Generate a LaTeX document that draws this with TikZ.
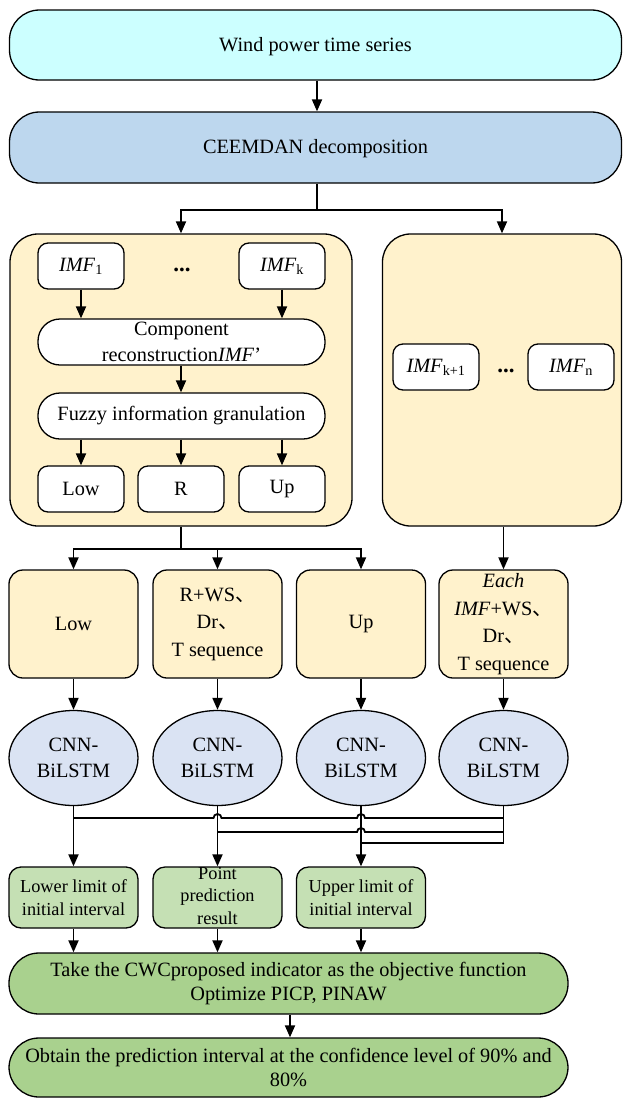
\documentclass[tikz,border=0pt]{standalone}
\usepackage{fontspec}
\setmainfont{Liberation Serif}
\newfontfamily\cjk{Noto Sans CJK SC}
\usetikzlibrary{arrows.meta,shapes.geometric}
\definecolor{cyanfill}{HTML}{CCFFFF}
\definecolor{bluefill}{HTML}{BDD7EE}
\definecolor{yelfill}{HTML}{FFF2CC}
\definecolor{ellfill}{HTML}{DAE3F3}
\definecolor{lgreen}{HTML}{C5E0B4}
\definecolor{dgreen}{HTML}{A9D18E}
\newcommand{\dun}{{\cjk 、}}
\begin{document}
\begin{tikzpicture}[x=1pt,y=-1pt,
  every node/.style={font=\fontsize{20.3}{25.5}\selectfont, inner sep=0pt, align=center},
  rbox/.style={draw, line width=1.3pt, rounded corners=#1},
  conn/.style={line width=1.8pt},
  arr/.style={line width=1.8pt, -{Triangle[length=12pt,width=10pt]}},
  smallbox/.style={rbox=10pt, fill=white, minimum width=86pt, minimum height=46pt},
  pill/.style={rbox=22pt, fill=white, minimum width=287pt, minimum height=46pt},
  midbox/.style={rbox=14pt, fill=yelfill, minimum width=129pt, minimum height=108pt, font=\fontsize{20.3}{27.5}\selectfont},
  cnn/.style={ellipse, draw, line width=1.3pt, fill=ellfill, minimum width=129pt, minimum height=95pt},
  gbox/.style={rbox=12pt, fill=lgreen, minimum width=129pt, minimum height=61pt, font=\fontsize{18.3}{22.5}\selectfont},
  bigg/.style={rbox=30pt, fill=dgreen, minimum width=559pt, font=\fontsize{20.3}{24.5}\selectfont}
]
\useasboundingbox (0,0) rectangle (623,1098);

% top boxes
\node[rbox=30pt, fill=cyanfill, minimum width=612pt, minimum height=70pt] (b1) at (315.5,45) {\raisebox{-2pt}[\height][\depth]{Wind power time series}};
\node[rbox=30pt, fill=bluefill, minimum width=612pt, minimum height=71pt] (b2) at (315.5,147.5) {\raisebox{-1pt}[\height][\depth]{CEEMDAN decomposition}};

% big containers
\node[rbox=28pt, fill=yelfill, minimum width=342pt, minimum height=292pt] (L) at (181,380) {};
\node[rbox=28pt, fill=yelfill, minimum width=239pt, minimum height=292pt] (R) at (502,380) {};

% inside left
\node[smallbox] (imf1) at (81,266) {\textit{IMF}\textsubscript{1}};
\node (dots1) at (182,270) {\textbf{\fontsize{23}{23}\selectfont ...}};
\node[smallbox] (imfk) at (282,266) {\textit{IMF}\textsubscript{k}};
\node[pill] (comp) at (181.5,342) {Component\\reconstruction\textit{IMF}’};
\node[pill] (fuzzy) at (181.5,416) {Fuzzy information granulation};
\node[smallbox] (low0) at (81,489) {Low};
\node[smallbox] (r0) at (181,489) {R};
\node[smallbox] (up0) at (282,489) {Up};

% inside right
\node[smallbox] (imfk1) at (436,367) {\textit{IMF}\textsubscript{k+1}};
\node (dots2) at (506,371) {\textbf{\fontsize{23}{23}\selectfont ...}};
\node[smallbox] (imfn) at (571,367) {\textit{IMF}\textsubscript{n}};

% middle row
\node[midbox] (low1) at (73.5,624) {Low};
\node[midbox] (r1) at (217.5,624) {R+WS\dun\\Dr\dun\\T sequence};
\node[midbox] (up1) at (361,624) {Up};
\node[midbox] (e1) at (503.5,624) {\textit{Each}\\\textit{IMF}+WS\dun\\Dr\dun\\T sequence};

% ellipses
\node[cnn] (c1) at (73.5,758) {CNN-\\BiLSTM};
\node[cnn] (c2) at (217.5,758) {CNN-\\BiLSTM};
\node[cnn] (c3) at (361,758) {CNN-\\BiLSTM};
\node[cnn] (c4) at (503.5,758) {CNN-\\BiLSTM};

% green small
\node[gbox] (g1) at (73.5,897.5) {Lower limit of\\initial interval};
\node[rbox=12pt, fill=lgreen, minimum width=129pt, minimum height=61pt] (g2) at (217.5,897.5) {};
\node[font=\fontsize{18.3}{22.5}\selectfont] (g2t) at (217.5,896) {Point\\prediction\\result};
\node[gbox] (g3) at (361,897.5) {Upper limit of\\initial interval};

% big green
\node[bigg, minimum height=61pt] (G1) at (288.5,983.5) {Take the CWCproposed indicator as the objective function\\Optimize PICP, PINAW};
\node[bigg, minimum height=59pt] (G2) at (288.5,1067.5) {Obtain the prediction interval at the confidence level of 90\% and\\80\%};

% connectors
\draw[arr] (b1.south -| 317,0) -- (b2.north -| 317,0);
\draw[conn] (b2.south -| 317,0) -- (317,210) coordinate (j1);
\draw[arr] (j1) -| (L.north);
\draw[arr] (j1) -| (R.north);

\draw[arr] (imf1) -- (imf1 |- comp.north);
\draw[arr] (imfk) -- (imfk |- comp.north);
\draw[arr] (comp.south -| 181,0) -- (fuzzy.north -| 181,0);
\draw[arr] (low0 |- fuzzy.south) -- (low0);
\draw[arr] (r0 |- fuzzy.south) -- (r0);
\draw[arr] (up0 |- fuzzy.south) -- (up0);

\draw[conn] (L.south) -- (181,549) coordinate (j2);
\draw[arr] (j2) -| (low1.north);
\draw[arr] (j2) -| (r1.north);
\draw[arr] (j2) -| (up1.north);
\draw[arr] (R.south -| e1.north) -- (e1.north);

\draw[arr] (low1) -- (c1);
\draw[arr] (r1) -- (c2);
\draw[arr] (up1) -- (c3);
\draw[arr] (e1) -- (c4);

\draw[arr] (c1) -- (g1);
\draw[arr] (c2) -- (g2);
\draw[arr] (c3) -- (g3);
\draw[conn] (c4.south) -- (503.5,843) -- (361,843);
\draw[conn] (73.5,818) -- (213.5,818) arc[start angle=180,end angle=0,radius=4pt] -- (357,818) arc[start angle=180,end angle=0,radius=4pt] -- (503.5,818);
\draw[conn] (217.5,832) -- (357,832) arc[start angle=180,end angle=0,radius=4pt] -- (503.5,832);

\draw[arr] (g1) -- (g1 |- G1.north);
\draw[arr] (g2) -- (g2 |- G1.north);
\draw[arr] (g3) -- (g3 |- G1.north);
\draw[arr] (G1.south -| 290,0) -- (G2.north -| 290,0);
\end{tikzpicture}
\end{document}
